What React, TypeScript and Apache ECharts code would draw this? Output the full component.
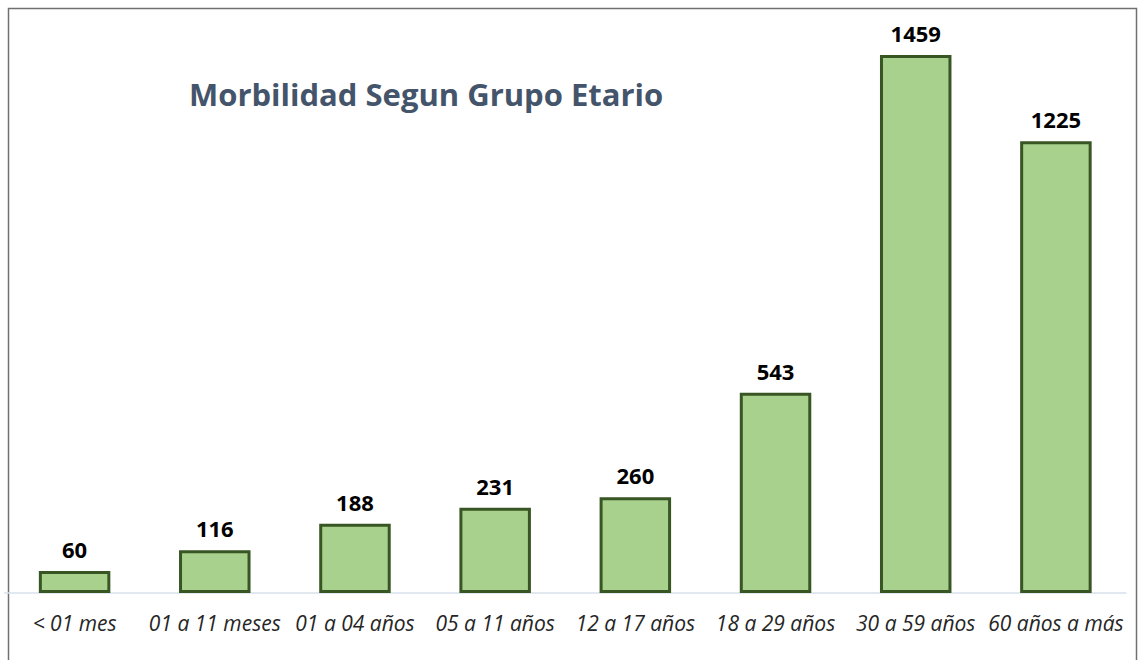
import React, { useEffect, useRef } from "react";
import * as echarts from "echarts";

const categories = [
  "< 01 mes",
  "01 a 11 meses",
  "01 a 04 años",
  "05 a 11 años",
  "12 a 17 años",
  "18 a 29 años",
  "30 a 59 años",
  "60 años a más",
];
const values = [60, 116, 188, 231, 260, 543, 1459, 1225];
const title = "Morbilidad Segun Grupo Etario";

export default function App() {
  const ref = useRef<HTMLDivElement>(null);
  useEffect(() => {
    if (!ref.current) return;
    const chart = echarts.init(ref.current, null, { renderer: "svg" });
    chart.setOption({
      animation: false,
      backgroundColor: "#ffffff",
      graphic: [
        {
          type: "rect",
          shape: { x: 8.5, y: 8.5, width: 1128, height: 700 },
          style: { fill: "none", stroke: "#707070", lineWidth: 1.5 },
          silent: true,
        },
        {
          type: "text",
          x: 189,
          y: 94,
          style: {
            text: title,
            fill: "#44546a",
            font: "bold 31px 'Open Sans', sans-serif",
            textVerticalAlign: "middle",
          },
        },
      ],
      grid: { left: 4.5, right: 13, top: 55, bottom: 67, containLabel: false },
      xAxis: {
        type: "category",
        data: categories,
        axisLine: { show: true, lineStyle: { color: "#d9e1ea", width: 1.5 } },
        axisTick: { show: false },
        axisLabel: {
          interval: 0,
          margin: 19,
          color: "#262626",
          fontFamily: "'Open Sans', sans-serif",
          fontStyle: "italic",
          fontSize: 21,
        },
      },
      yAxis: {
        type: "value",
        min: 0,
        max: 1459,
        show: false,
        splitLine: { show: false },
      },
      series: [
        {
          type: "bar",
          data: values,
          barWidth: "51%",
          itemStyle: { color: "#a9d18e", borderColor: "#375623", borderWidth: 3 },
          label: {
            show: true,
            position: "top",
            distance: 11,
            color: "#000000",
            fontFamily: "'Open Sans', sans-serif",
            fontWeight: "bold",
            fontSize: 22,
          },
        },
      ],
    });
    return () => chart.dispose();
  }, []);
  return (
    <div
      ref={ref}
      style={{ position: "fixed", left: 0, top: 0, width: 1139, height: 660 }}
    />
  );
}
